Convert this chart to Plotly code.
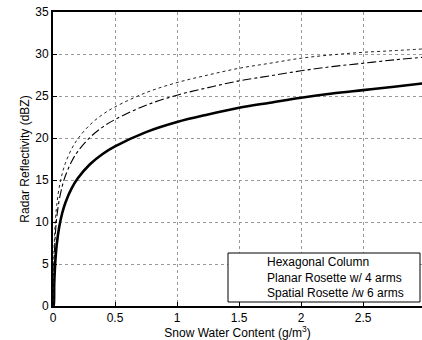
import plotly.graph_objects as go

swc = [0.002, 0.005, 0.01, 0.02, 0.03, 0.05, 0.075, 0.1, 0.15, 0.2, 0.3, 0.4, 0.5,
       0.75, 1.0, 1.25, 1.5, 1.75, 2.0, 2.25, 2.5, 2.75, 2.98]

hexagonal = [0.0, 0.0, 2.7, 5.6, 7.3, 9.4, 11.1, 12.3, 14.0, 15.2, 16.9, 18.1, 19.0,
             20.7, 21.9, 22.8, 23.6, 24.2, 24.8, 25.3, 25.7, 26.1, 26.5]
planar = [0.0, 3.0, 5.9, 8.8, 10.5, 12.6, 14.3, 15.5, 17.2, 18.4, 20.1, 21.3, 22.2,
          23.9, 25.1, 26.0, 26.8, 27.4, 28.0, 28.5, 28.9, 29.3, 29.6]
spatial = [0.5, 4.5, 7.4, 10.3, 12.0, 14.1, 15.8, 17.0, 18.7, 19.9, 21.6, 22.8, 23.7,
           25.4, 26.6, 27.5, 28.3, 28.9, 29.5, 29.9, 30.2, 30.4, 30.6]

names = ["Hexagonal Column", "Planar Rosette w/ 4 arms", "Spatial Rosette /w 6 arms"]

x_ticks = [0, 0.5, 1, 1.5, 2, 2.5]
x_tick_labels = ["0", "0.5", "1", "1.5", "2", "2.5"]
y_ticks = [0, 5, 10, 15, 20, 25, 30, 35]

font_family = "Liberation Sans, Arial, Helvetica, sans-serif"

W, H = 422, 340
L, T, B, R = 53, 12, 34, 0
pw, ph = W - L - R, H - T - B


def px_x(p):  # window pixel -> paper x
    return (p - L) / pw


def px_y(p):  # window pixel -> paper y
    return 1 - (p - T) / ph


fig = go.Figure()
fig.add_trace(go.Scatter(x=swc, y=hexagonal, mode="lines", name=names[0],
                         line=dict(color="black", width=2.6, shape="spline")))
fig.add_trace(go.Scatter(x=swc, y=planar, mode="lines", name=names[1],
                         line=dict(color="black", width=1.1, dash="dashdot",
                                   shape="spline")))
fig.add_trace(go.Scatter(x=swc, y=spatial, mode="lines", name=names[2],
                         line=dict(color="#222", width=1, dash="dot", shape="spline")))

axis_common = dict(
    showline=True, linecolor="black", linewidth=2,
    ticks="inside", ticklen=4, tickcolor="black",
    showgrid=True, gridcolor="#999", gridwidth=1, griddash="dot",
    zeroline=False, automargin=False,
    tickfont=dict(family=font_family, size=12, color="black"),
)

fig.update_layout(
    width=W, height=H,
    margin=dict(l=L, r=R, t=T, b=B),
    paper_bgcolor="white", plot_bgcolor="white",
    font=dict(family=font_family, size=12, color="black"),
    xaxis=dict(range=[0, 2.975], tickvals=x_ticks, ticktext=x_tick_labels,
               mirror=True,
               title=dict(text="Snow Water Content (g/m<sup>3</sup>)", standoff=10,
                          font=dict(size=12)),
               **axis_common),
    yaxis=dict(range=[0, 35], tickvals=y_ticks,
               title=dict(text="Radar Reflectivity (dBZ)", standoff=3,
                          font=dict(size=12)),
               **axis_common),
    showlegend=False,
)

# Legend box drawn as a rectangle with the series names as text
fig.add_shape(type="rect", xref="paper", yref="paper",
              x0=px_x(228), x1=px_x(420), y0=px_y(302), y1=px_y(253),
              line=dict(color="black", width=1), fillcolor="white", layer="above")
fig.add_annotation(xref="paper", yref="paper", x=px_x(265), y=px_y(277.5),
                   xanchor="left", yanchor="middle", align="left", showarrow=False,
                   text="<br>".join(names), font=dict(size=12, color="black"))

fig.write_html("out.html", config={"displayModeBar": False},
               post_script="document.body.style.margin='0';"
                           "document.body.style.overflow='hidden';")
